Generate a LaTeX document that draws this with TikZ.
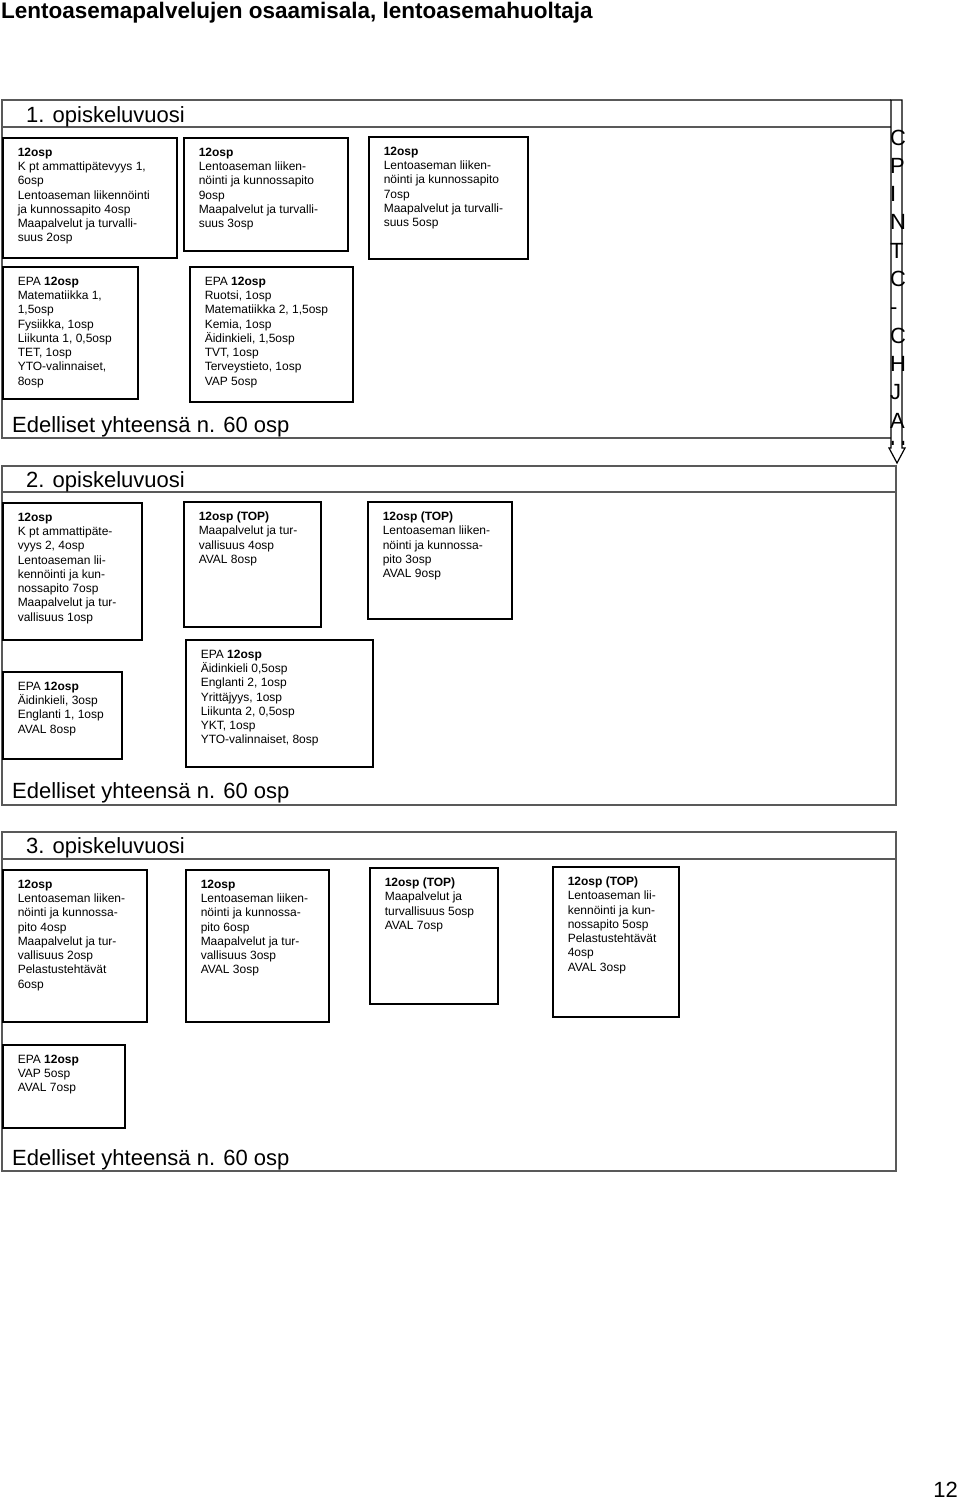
\documentclass[tikz,border=0pt]{standalone}
\usepackage{fontspec}
\setmainfont{Liberation Sans}
\usepackage{tikz}
\newcommand{\osa}[3]{\parbox[t][#2pt][t]{#1pt}{\raggedright #3}}

\begin{document}
\begin{tikzpicture}[x=1pt, y=-1pt,
    KB/.style={rectangle, draw=black, line width=1.5pt, anchor=north west,
      font=\fontsize{12}{14.3}\selectfont, inner xsep=15pt, inner ysep=10pt},
    OT/.style={anchor=base west, inner sep=0pt,
      font=\fontsize{22}{26}\selectfont},
    RK/.style={draw=black!65, line width=1.6pt},
    NU/.style={draw=black, line width=1.2pt, fill=white}
  ]
    \useasboundingbox (0,0) rectangle (960,1499);

    %% Otsikko
    \node[OT, font=\fontsize{22.5}{27}\selectfont\bfseries] (otsikko) at (1,19)
      {Lentoasemapalvelujen osaamisala, lentoasemahuoltaja};

    %% 1. opiskeluvuosi
    \draw[RK] (891,100) -- (2,100) -- (2,438) -- (891,438);
    \draw[RK] (2,127) -- (891,127);
    \node[OT] (v1) at (26,122) {1. opiskeluvuosi};
    \node[KB] (k1a) at (2,137) {\osa{144}{100}{\textbf{12osp}\\K pt ammattipätevyys 1,\\6osp\\Lentoaseman liikennöinti\\ja kunnossapito 4osp\\Maapalvelut ja turvalli-\\suus 2osp}};
    \node[KB] (k1b) at (183,137) {\osa{134}{93}{\textbf{12osp}\\Lentoaseman liiken-\\nöinti ja kunnossapito\\9osp\\Maapalvelut ja turvalli-\\suus 3osp}};
    \node[KB] (k1c) at (368,136) {\osa{129}{102}{\textbf{12osp}\\Lentoaseman liiken-\\nöinti ja kunnossapito\\7osp\\Maapalvelut ja turvalli-\\suus 5osp}};
    \node[KB] (e1a) at (2,266) {\osa{105}{112}{EPA \textbf{12osp}\\Matematiikka 1,\\1,5osp\\Fysiikka, 1osp\\Liikunta 1, 0,5osp\\TET, 1osp\\YTO-valinnaiset,\\8osp}};
    \node[KB] (e1b) at (189,266) {\osa{133}{115}{EPA \textbf{12osp}\\Ruotsi, 1osp\\Matematiikka 2, 1,5osp\\Kemia, 1osp\\Äidinkieli, 1,5osp\\TVT, 1osp\\Terveystieto, 1osp\\VAP 5osp}};
    \node[OT] (yht1) at (12,432) {Edelliset yhteensä n. 60 osp};

    %% 2. opiskeluvuosi
    \draw[RK] (2,466) rectangle (896,805);
    \draw[RK] (2,492) -- (896,492);
    \node[OT] (v2) at (26,487) {2. opiskeluvuosi};
    \node[KB] (k2a) at (2,502) {\osa{109}{117}{\textbf{12osp}\\K pt ammattipäte-\\vyys 2, 4osp\\Lentoaseman lii-\\kennöinti ja kun-\\nossapito 7osp\\Maapalvelut ja tur-\\vallisuus 1osp}};
    \node[KB] (k2b) at (183,501) {\osa{107}{105}{\textbf{12osp (TOP)}\\Maapalvelut ja tur-\\vallisuus 4osp\\AVAL 8osp}};
    \node[KB] (k2c) at (367,501) {\osa{114}{97}{\textbf{12osp (TOP)}\\Lentoaseman liiken-\\nöinti ja kunnossa-\\pito 3osp\\AVAL 9osp}};
    \node[KB] (e2a) at (2,671) {\osa{89}{67}{EPA \textbf{12osp}\\Äidinkieli, 3osp\\Englanti 1, 1osp\\AVAL 8osp}};
    \node[KB] (e2b) at (185,639) {\osa{157}{107}{EPA \textbf{12osp}\\Äidinkieli 0,5osp\\Englanti 2, 1osp\\Yrittäjyys, 1osp\\Liikunta 2, 0,5osp\\YKT, 1osp\\YTO-valinnaiset, 8osp}};
    \node[OT] (yht2) at (12,798) {Edelliset yhteensä n. 60 osp};

    %% 3. opiskeluvuosi
    \draw[RK] (2,832) rectangle (896,1171);
    \draw[RK] (2,859) -- (896,859);
    \node[OT] (v3) at (26,853) {3. opiskeluvuosi};
    \node[KB] (k3a) at (2,869) {\osa{114}{132}{\textbf{12osp}\\Lentoaseman liiken-\\nöinti ja kunnossa-\\pito 4osp\\Maapalvelut ja tur-\\vallisuus 2osp\\Pelastustehtävät\\6osp}};
    \node[KB] (k3b) at (185,869) {\osa{113}{132}{\textbf{12osp}\\Lentoaseman liiken-\\nöinti ja kunnossa-\\pito 6osp\\Maapalvelut ja tur-\\vallisuus 3osp\\AVAL 3osp}};
    \node[KB] (k3c) at (369,867) {\osa{98}{116}{\textbf{12osp (TOP)}\\Maapalvelut ja\\turvallisuus 5osp\\AVAL 7osp}};
    \node[KB] (k3d) at (552,866) {\osa{96}{130}{\textbf{12osp (TOP)}\\Lentoaseman lii-\\kennöinti ja kun-\\nossapito 5osp\\Pelastustehtävät\\4osp\\AVAL 3osp}};
    \node[KB] (e3a) at (2,1044) {\osa{92}{63}{EPA \textbf{12osp}\\VAP 5osp\\AVAL 7osp}};
    \node[OT] (yht3) at (12,1165) {Edelliset yhteensä n. 60 osp};

    %% Nuoli oikealla
    \draw[NU] (891,100) -- (902,100) -- (902,448) -- (905,448) -- (897,463)
      -- (889,448) -- (891,448) -- cycle;
    \foreach \ch [count=\i from 0] in {C,P,I,N,T,C,-,C,H,J,A}
      \node[OT] (op\i) at (890,{145+28.3*\i}) {\ch};
    \begin{scope}
      \clip (880,430) rectangle (920,444);
      \node[OT] (op11) at (890,{145+28.3*11}) {U};
    \end{scope}

    %% Sivunumero
    \node[OT, anchor=base east] (sivu) at (958,1497) {12};
\end{tikzpicture}
\end{document}
